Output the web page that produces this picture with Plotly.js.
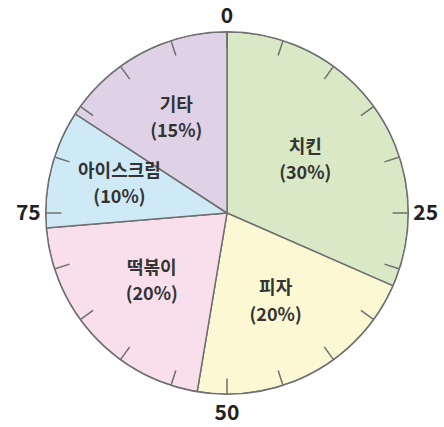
<!DOCTYPE html>
<html>
<head>
<meta charset="utf-8">
<script src="https://cdn.plot.ly/plotly-3.0.1.min.js"></script>
<style>
  html, body { margin: 0; padding: 0; background: #fff; }
  #chart { width: 444px; height: 427px; }
</style>
</head>
<body>
<div id="chart"></div>
<script>
// Favourite snacks survey (percent)
const categories = ['치킨', '피자', '떡볶이', '아이스크림', '기타'];
const percents = [30, 20, 20, 10, 15];
const sliceColors = ['#d9e8c5', '#fbf8d3', '#f8dfeb', '#cfeaf7', '#dfd1e6'];

// Percentage ring around the pie: a tick every 5, labels at the quarters
const ringTicks = [0, 5, 10, 15, 20, 25, 30, 35, 40, 45, 50, 55, 60, 65, 70, 75, 80, 85, 90, 95];
const ringLabels = ['0', '25', '50', '75'];

const total = percents.reduce((a, b) => a + b, 0);
const widths = percents.map(v => v / total * 360);
const centers = [];
let acc = 0;
widths.forEach(w => { centers.push(acc + w / 2); acc += w; });

// narrow slices push their label a little further out
const labelR = percents.map(v => 0.5 + 0.16 * (1 - (v / total) / 0.35));

const edge = '#6f6f6f';
const fontFamily = 'Noto Sans CJK KR, Noto Sans, sans-serif';
const labelFont = { family: fontFamily, size: 18, color: '#333333', weight: 700 };
// an invisible marker keeps the two label lines a little apart
const spacer = { size: 5, color: 'rgba(0,0,0,0)' };

const slices = {
  type: 'barpolar',
  theta: centers,
  width: widths,
  r: percents.map(() => 1),
  marker: { color: sliceColors, line: { color: edge, width: 1.5 } },
  hoverinfo: 'skip',
  showlegend: false
};

// category name sits above the label point, its share below
const names = {
  type: 'scatterpolar',
  mode: 'markers+text',
  theta: centers,
  r: labelR,
  marker: spacer,
  text: categories.map(c => '<b>' + c + '</b>'),
  textposition: 'top center',
  textfont: labelFont,
  hoverinfo: 'skip',
  showlegend: false
};

const shares = {
  type: 'scatterpolar',
  mode: 'markers+text',
  theta: centers,
  r: labelR,
  marker: spacer,
  text: percents.map(v => '<b>(' + v + '%)</b>'),
  textposition: 'bottom center',
  textfont: labelFont,
  hoverinfo: 'skip',
  showlegend: false
};

const tickDeg = ringTicks.map(t => t * 3.6);
const tickText = ringTicks.map(t => ringLabels.includes(String(t)) ? '<b>' + t + '</b>' : '');

const layout = {
  width: 444,
  height: 427,
  margin: { l: 0, r: 0, t: 0, b: 0 },
  paper_bgcolor: '#ffffff',
  showlegend: false,
  polar: {
    domain: { x: [45.7 / 444, 408.3 / 444], y: [1 - 394.3 / 427, 1 - 31.7 / 427] },
    bgcolor: 'rgba(0,0,0,0)',
    barmode: 'overlay',
    hole: 0,
    radialaxis: { visible: false, range: [0, 1] },
    angularaxis: {
      rotation: 90,
      direction: 'clockwise',
      tickmode: 'array',
      tickvals: tickDeg,
      ticktext: tickText,
      ticks: 'inside',
      ticklen: 15,
      tickwidth: 1.5,
      tickcolor: edge,
      showline: true,
      linecolor: edge,
      linewidth: 1.5,
      showgrid: false,
      layer: 'above traces',
      tickfont: { family: fontFamily, size: 21, color: '#222222' }
    }
  }
};

Plotly.newPlot('chart', [slices, names, shares], layout, { displayModeBar: false, staticPlot: true });
</script>
</body>
</html>
